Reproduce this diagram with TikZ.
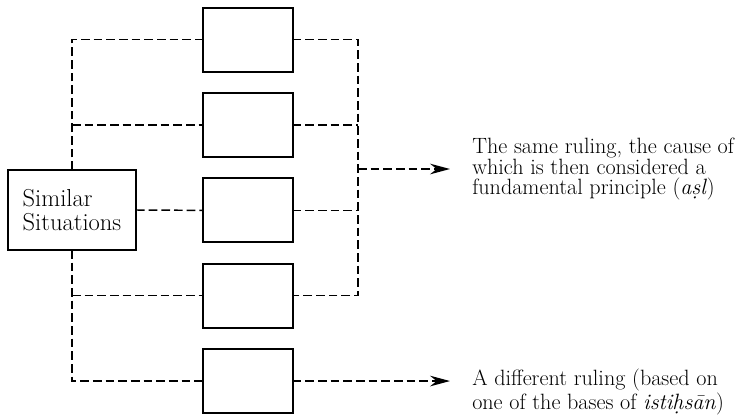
\documentclass[tikz,border=0pt]{standalone}
\usetikzlibrary{positioning,arrows.meta}

\begin{document}
\begin{tikzpicture}[
    x=0.75pt,
    y=-0.75pt,
    case/.style={
        draw,
        line width=1.5pt,
        outer sep=0pt,
        minimum width=67pt,
        minimum height=48pt
    },
    source/.style={
        case,
        minimum width=96pt,
        minimum height=60pt,
        align=left,
        font=\fontsize{18.4}{18}\selectfont
    },
    outcome/.style={
        align=left,
        inner xsep=16.5pt,
        inner ysep=0pt,
        font=\fontsize{16.6}{15.3}\selectfont
    },
    link/.style={line width=1.1pt, dash pattern=on 6.5pt off 3pt},
    tip/.style={-{Stealth[length=15pt, width=8pt, inset=5pt]}}
]
\useasboundingbox (0,0) rectangle (742,415);

% ============================================================
% SITUATIONS
% ============================================================
\node[source] (sit) at (72,210) {Similar\\Situations};

\node[case] (b1) at (248,39.7) {};
\node[case, below=16pt of b1] (b2) {};
\node[case, below=16pt of b2] (b3) {};
\node[case, below=16pt of b3] (b4) {};
\node[case, below=16pt of b4] (b5) {};

\draw[link] (sit.north) |- (b1.west);
\draw[link] (sit.north |- b2.west) -- (b2.west);
\draw[link] (sit.east) -- (b3.west);
\draw[link] (sit.south) |- (b5.west);
\draw[link] (sit.south |- b4.west) -- (b4.west);

% ============================================================
% RULINGS
% ============================================================
\coordinate (rail) at (358,210);

\node[outcome, anchor=west] (same) at (450,169)
    {The same ruling, the cause of\\which is then considered a\\fundamental principle (\textit{a\d{s}l})};
\node[outcome, anchor=north west] (diff) at (450,369)
    {A different ruling (based on\\one of the bases of \textit{isti\d{h}s\={a}n})};

\draw[link] (b1.east) -| (rail |- b4.east) -- (b4.east);
\draw[link] (b2.east) -- (rail |- b2.east);
\draw[link] (b3.east) -- (rail |- b3.east);

\draw[link, tip] (rail |- same.west) -- (same.west);
\draw[link, tip] (b5.east) -- (b5.east -| diff.west);

\end{tikzpicture}
\end{document}
